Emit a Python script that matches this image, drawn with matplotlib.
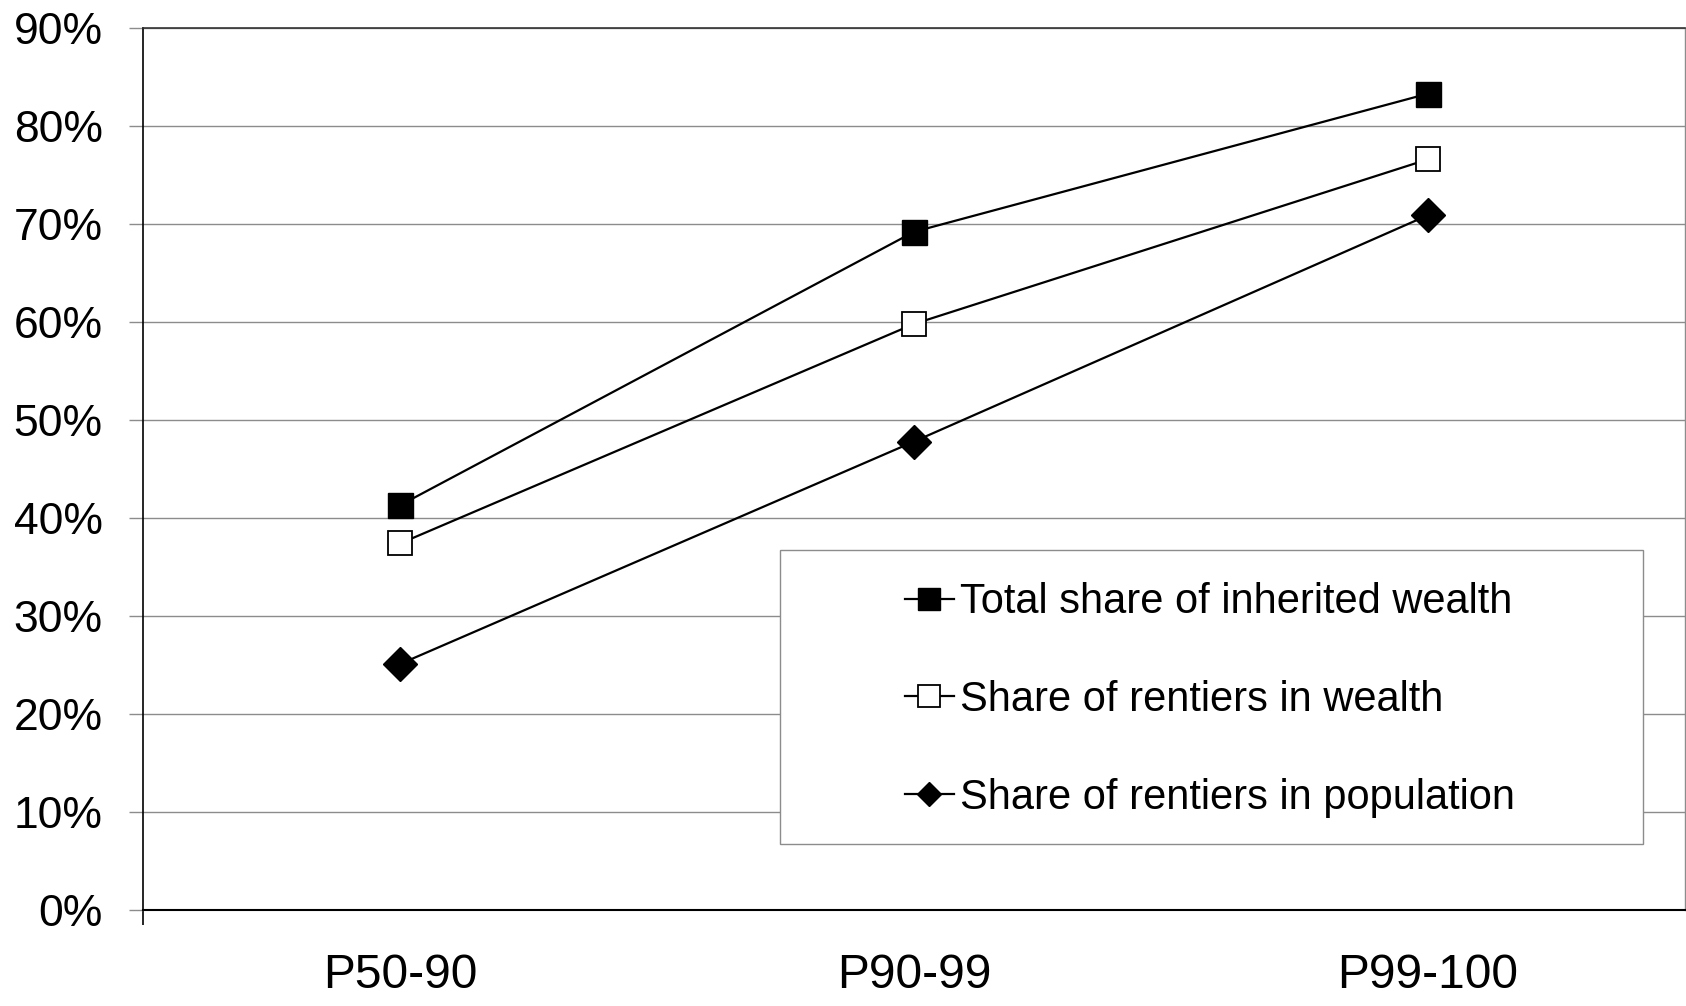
import matplotlib
matplotlib.use("Agg")
import matplotlib.pyplot as plt
from matplotlib.patches import Rectangle
from matplotlib.ticker import FixedLocator

plt.rcParams['font.family'] = ['Liberation Sans', 'DejaVu Sans']

# Data
groups = ['P50-90', 'P90-99', 'P99-100']
total_inherited = [41.3, 69.2, 83.3]
rentiers_wealth = [37.4, 59.8, 76.6]
rentiers_pop = [25.1, 47.8, 70.9]
series_names = ['Total share of inherited wealth',
                'Share of rentiers in wealth',
                'Share of rentiers in population']
y_ticks = [0, 10, 20, 30, 40, 50, 60, 70, 80, 90]

W, H = 1686, 1006
fig = plt.figure(figsize=(W / 100, H / 100), dpi=100)
ax = fig.add_axes([143 / W, (H - 910) / H, (1685 - 143) / W, (910 - 28) / H])

x = list(range(len(groups)))
ax.plot(x, total_inherited, color='black', lw=1.6, marker='s', ms=18,
        mfc='black', mec='black', mew=1, label=series_names[0], zorder=4)
ax.plot(x, rentiers_wealth, color='black', lw=1.6, marker='s', ms=17.5,
        mfc='white', mec='black', mew=1.3, label=series_names[1], zorder=4)
ax.plot(x, rentiers_pop, color='black', lw=1.6, marker='D', ms=17,
        mfc='black', mec='black', mew=1, label=series_names[2], zorder=4)

ax.set_xlim(-0.5, len(groups) - 0.5)
ax.set_ylim(0, 90)
ax.set_xticks(x)
ax.set_xticklabels(groups, fontsize=34.5)
ax.xaxis.set_minor_locator(FixedLocator([-0.5]))
ax.tick_params(axis='x', which='major', length=0, pad=31)
ax.tick_params(axis='x', which='minor', length=11, width=1.2, color='black')

ax.set_yticks(y_ticks)
ax.set_yticklabels([f'{v}%' for v in y_ticks], fontsize=32)
ax.tick_params(axis='y', length=10, width=1, color='#8c8c8c', pad=19)

ax.set_axisbelow(True)
ax.yaxis.grid(True, color='#8c8c8c', lw=1)

ax.spines['left'].set_color('black')
ax.spines['left'].set_linewidth(1.2)
ax.spines['bottom'].set_color('black')
ax.spines['bottom'].set_linewidth(1.5)
ax.spines['top'].set_color('#333333')
ax.spines['top'].set_linewidth(1.2)
ax.spines['right'].set_color('#8c8c8c')
ax.spines['right'].set_linewidth(1)

# legend box
bx0, bx1 = (780 - 143) / 1542, (1643 - 143) / 1542
by0, by1 = (910 - 844) / 882, (910 - 550) / 882
ax.add_patch(Rectangle((bx0, by0), bx1 - bx0, by1 - by0, transform=ax.transAxes,
                       facecolor='white', edgecolor='#8c8c8c', lw=1, zorder=3))

leg = ax.legend(loc='center left', bbox_to_anchor=((905 - 143) / 1542, (910 - 700) / 882),
                frameon=False, fontsize=30, borderpad=0, borderaxespad=0,
                handlelength=1.17, handletextpad=0.15, labelspacing=1.39)
leg.set_zorder(5)
hs = leg.legend_handles
hs[0].set_markersize(16.5)
hs[1].set_markersize(16)
hs[2].set_markersize(12)

fig.savefig('out.png', dpi=100)
